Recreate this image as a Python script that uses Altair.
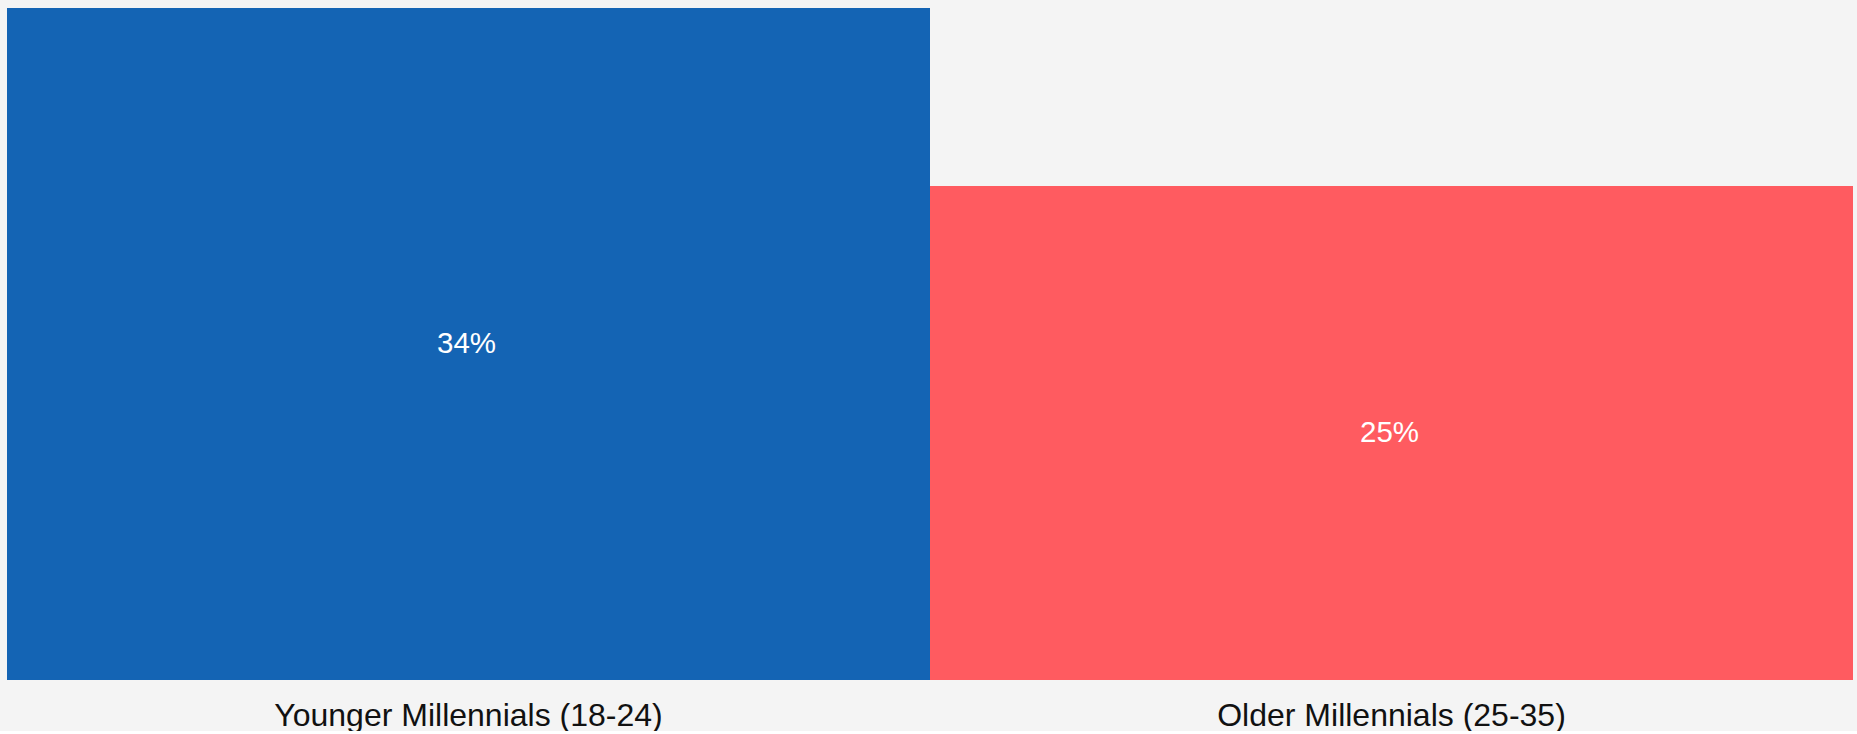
import altair as alt
import pandas as pd

groups = ["Younger Millennials (18-24)", "Older Millennials (25-35)"]
shares = [34, 25]
colors = ["#1464b4", "#ff5b60"]

df = pd.DataFrame({"group": groups, "share": shares})
df["label"] = df["share"].astype(str) + "%"

x = alt.X("group:N", sort=groups,
          scale=alt.Scale(paddingInner=0, paddingOuter=0),
          axis=alt.Axis(title=None, domain=False, ticks=False, labelAngle=0,
                        labelFont="Liberation Sans", labelFontSize=32,
                        labelColor="#111111", labelPadding=20, labelLimit=0))
y = alt.Y("share:Q", scale=alt.Scale(domain=[0, 34], nice=False, zero=True), axis=None)

bars = alt.Chart(df).mark_bar().encode(
    x=x,
    y=y,
    color=alt.Color("group:N", scale=alt.Scale(domain=groups, range=colors), legend=None),
)

labels = alt.Chart(df).mark_text(
    color="white", font="Liberation Sans", fontSize=29.5, baseline="middle", align="center", dx=-2
).encode(
    x=alt.X("group:N", sort=groups),
    y=alt.Y("mid:Q", scale=alt.Scale(domain=[0, 34], nice=False), axis=None),
    text="label:N",
).transform_calculate(mid="datum.share / 2")

chart = alt.layer(bars, labels).properties(
    width=1846,
    height=672,
    background="#f4f4f4",
    padding={"left": 7, "top": 8, "right": 4, "bottom": 0},
).configure_view(stroke=None)

chart.save("out.html", embed_options={"renderer": "svg", "actions": False})
